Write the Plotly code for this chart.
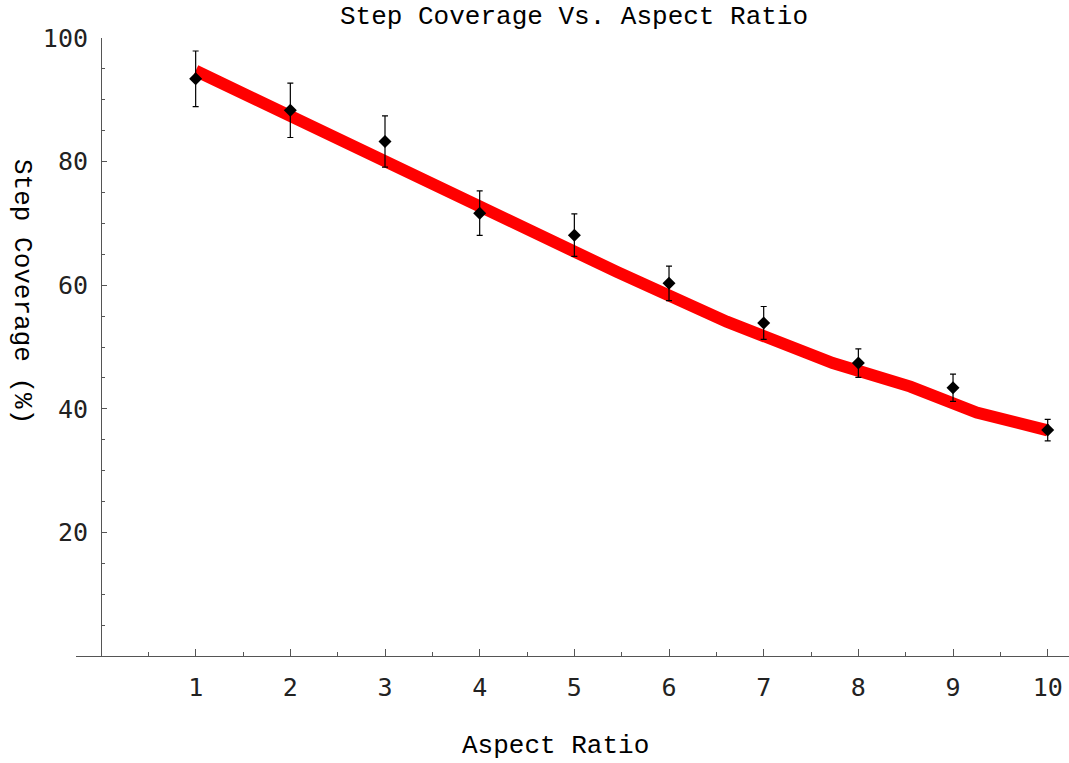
import plotly.graph_objects as go

# ---- data ----
aspect_ratio = [1, 2, 3, 4, 5, 6, 7, 8, 9, 10]
coverage = [93.4, 88.3, 83.25, 71.65, 68.1, 60.3, 53.9, 47.4, 43.4, 36.55]
coverage_err = [4.5, 4.4, 4.15, 3.6, 3.45, 2.8, 2.65, 2.3, 2.2, 1.75]

fit_x = [1, 3.23, 4.21, 5.45, 6.61, 7.73, 8.55, 9.25, 10]
fit_y = [94.7, 78.3, 71.25, 62.15, 54.1, 47.4, 43.6, 39.4, 36.5]

x_major = [1, 2, 3, 4, 5, 6, 7, 8, 9, 10]
x_minor = [0.5, 1.5, 2.5, 3.5, 4.5, 5.5, 6.5, 7.5, 8.5, 9.5]
y_major = [20, 40, 60, 80, 100]
y_minor = [5, 10, 15, 25, 30, 35, 45, 50, 55, 65, 70, 75, 85, 90, 95]

title_text = "Step Coverage Vs. Aspect Ratio"
x_title = "Aspect Ratio"
y_title = "Step Coverage (%)"

MONO = "Liberation Mono, Courier New, monospace"
TICKFONT = "DejaVu Sans Mono, monospace"
AXCOL = "#555555"

fig = go.Figure()
fig.add_trace(go.Scatter(
    x=fit_x, y=fit_y, mode="lines",
    line=dict(color="#ff0000", width=12),
    hoverinfo="skip", showlegend=False,
))
fig.add_trace(go.Scatter(
    x=aspect_ratio, y=coverage, mode="markers",
    marker=dict(symbol="diamond", size=10, color="black"),
    error_y=dict(type="data", array=coverage_err, visible=True,
                 color="black", thickness=1.2, width=3),
    showlegend=False,
))

fig.update_layout(
    width=1069, height=763,
    margin=dict(l=76, r=0, t=38, b=107),
    paper_bgcolor="white", plot_bgcolor="white",
    xaxis=dict(
        range=[-0.264, 10.225], domain=[0, 1],
        tickvals=x_major, ticktext=[str(v) for v in x_major],
        ticks="inside", ticklen=7, tickcolor=AXCOL, tickwidth=1,
        showline=True, linecolor=AXCOL, linewidth=1,
        showgrid=False, zeroline=False,
        tickfont=dict(family=TICKFONT, size=25, color="#222222"),
        ticklabelstandoff=9,
        minor=dict(tickvals=x_minor, ticks="inside", ticklen=4,
                   tickcolor=AXCOL, tickwidth=1, showgrid=False),
    ),
    yaxis=dict(
        range=[0, 100], anchor="free", position=0.02518,
        tickvals=y_major, ticktext=[str(v) for v in y_major],
        ticks="inside", ticklen=5, tickcolor=AXCOL, tickwidth=1,
        showline=True, linecolor=AXCOL, linewidth=1,
        showgrid=False, zeroline=False,
        tickfont=dict(family=TICKFONT, size=25, color="#222222"),
        ticklabelstandoff=8,
        minor=dict(tickvals=y_minor, ticks="inside", ticklen=3,
                   tickcolor=AXCOL, tickwidth=1, showgrid=False),
    ),
    annotations=[
        dict(text=title_text, xref="paper", yref="paper", x=0.5015, y=1.0345,
             xanchor="center", yanchor="middle", showarrow=False,
             font=dict(family=MONO, size=26, color="black")),
        dict(text=x_title, xref="paper", yref="paper", x=0.483, y=-0.146,
             xanchor="center", yanchor="middle", showarrow=False,
             font=dict(family=MONO, size=26, color="black")),
        dict(text=y_title, xref="paper", yref="paper", x=-0.0544, y=0.589,
             xanchor="center", yanchor="middle", showarrow=False, textangle=90,
             font=dict(family=MONO, size=26, color="black")),
    ],
)

fig.write_html("out.html")
